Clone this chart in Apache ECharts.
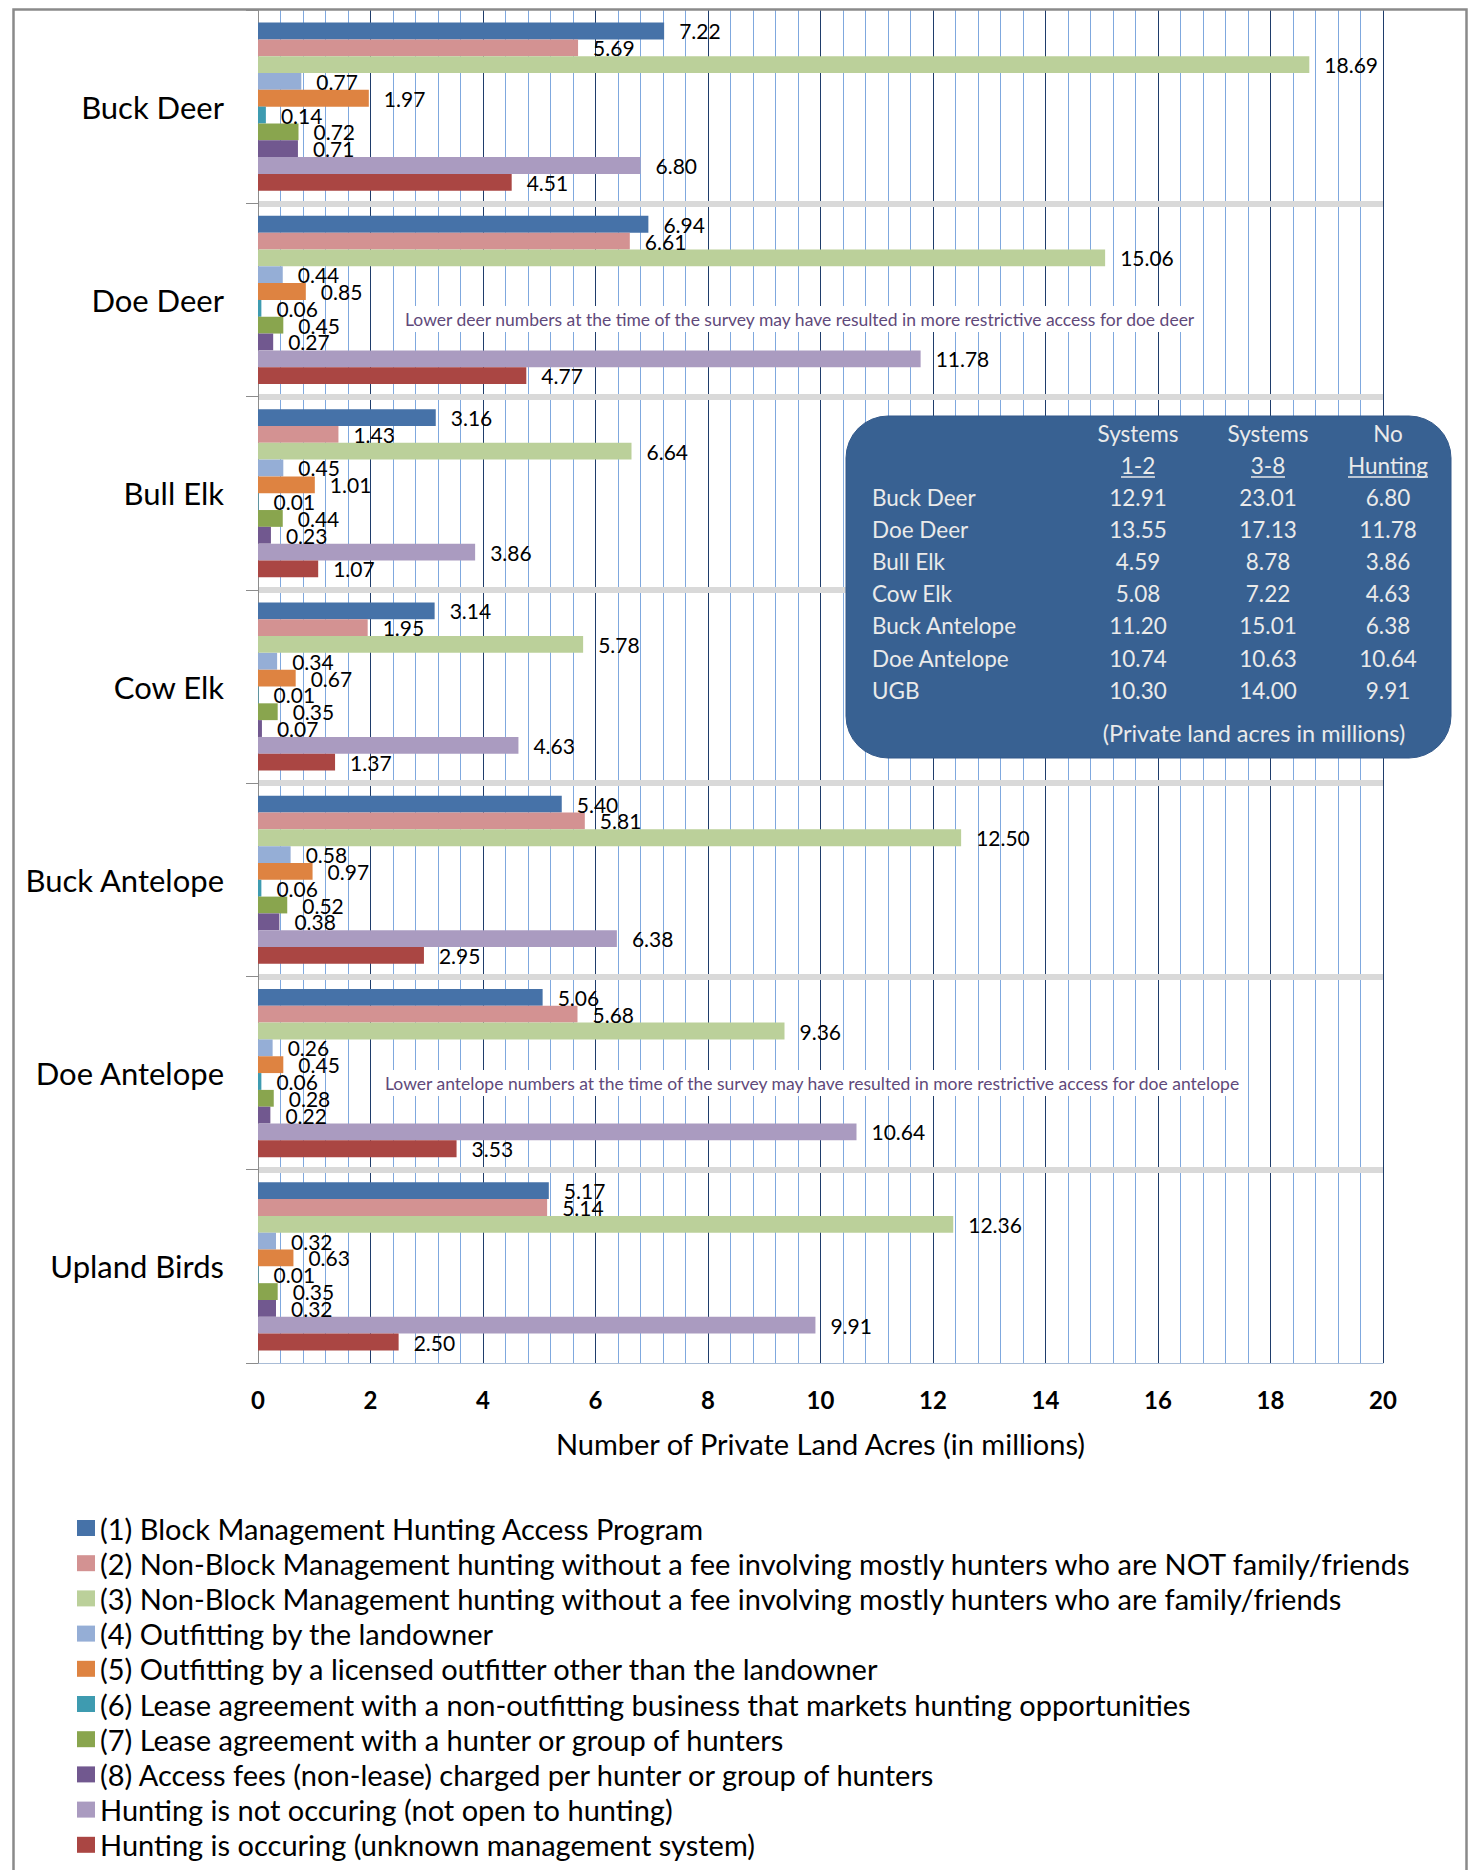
<!DOCTYPE html>
<html>
<head>
<meta charset="utf-8">
<script src="https://cdn.jsdelivr.net/npm/echarts@6/dist/echarts.min.js"></script>
<style>
html,body{margin:0;padding:0;background:#fff;}
#chart{width:1468px;height:1870px;}
</style>
</head>
<body>
<div id="chart"></div>
<script>
const categories = ['Buck Deer','Doe Deer','Bull Elk','Cow Elk','Buck Antelope','Doe Antelope','Upland Birds'];
const seriesNames = [
  '(1) Block Management Hunting Access Program',
  '(2) Non-Block Management hunting without a fee involving mostly hunters who are NOT family/friends',
  '(3) Non-Block Management hunting without a fee involving mostly hunters who are family/friends',
  '(4) Outfitting by the landowner',
  '(5) Outfitting by a licensed outfitter other than the landowner',
  '(6) Lease agreement with a non-outfitting business that markets hunting opportunities',
  '(7) Lease agreement with a hunter or group of hunters',
  '(8) Access fees (non-lease) charged per hunter or group of hunters',
  'Hunting is not occuring (not open to hunting)',
  'Hunting is occuring (unknown management system)'
];
const colors = ['#4672A8','#D39292','#BBD09A','#95AED6','#DE8341','#3E9BB0','#89A54E','#71588F','#AA9BC0','#AA4643'];
// values per series, in category order
const s1 = [7.22, 6.94, 3.16, 3.14, 5.40, 5.06, 5.17];
const s2 = [5.69, 6.61, 1.43, 1.95, 5.81, 5.68, 5.14];
const s3 = [18.69, 15.06, 6.64, 5.78, 12.50, 9.36, 12.36];
const s4 = [0.77, 0.44, 0.45, 0.34, 0.58, 0.26, 0.32];
const s5 = [1.97, 0.85, 1.01, 0.67, 0.97, 0.45, 0.63];
const s6 = [0.14, 0.06, 0.01, 0.01, 0.06, 0.06, 0.01];
const s7 = [0.72, 0.45, 0.44, 0.35, 0.52, 0.28, 0.35];
const s8 = [0.71, 0.27, 0.23, 0.07, 0.38, 0.22, 0.32];
const s9 = [6.80, 11.78, 3.86, 4.63, 6.38, 10.64, 9.91];
const s10 = [4.51, 4.77, 1.07, 1.37, 2.95, 3.53, 2.50];
const allValues = [s1,s2,s3,s4,s5,s6,s7,s8,s9,s10];

// summary table
const tableRows = ['Buck Deer','Doe Deer','Bull Elk','Cow Elk','Buck Antelope','Doe Antelope','UGB'];
const tableSys12 = ['12.91','13.55','4.59','5.08','11.20','10.74','10.30'];
const tableSys38 = ['23.01','17.13','8.78','7.22','15.01','10.63','14.00'];
const tableNoHunt = ['6.80','11.78','3.86','4.63','6.38','10.64','9.91'];
const tableHead1 = ['Systems','Systems','No'];
const tableHead2 = ['1-2','3-8','Hunting'];

const notes = [
  'Lower deer numbers at the time of the survey may have resulted in more restrictive access for doe deer',
  'Lower antelope numbers at the time of the survey may have resulted in more restrictive access for doe antelope'
];

const FONT = 'Lato, "Noto Sans", sans-serif';

const chart = echarts.init(document.getElementById('chart'), null, {renderer:'svg'});

const series = allValues.map((vals, i) => ({
  name: seriesNames[i],
  type: 'bar',
  data: vals,
  barGap: '0%',
  barCategoryGap: '13%',
  z: 2,
  itemStyle: {color: colors[i]},
  label: {
    show: true,
    position: 'right',
    distance: 15,
    color: '#000',
    fontFamily: FONT,
    fontSize: 21,
    formatter: p => p.value.toFixed(2)
  }
}));

// table graphics
const colX = [1138, 1268, 1388];
const rowY0 = 497, rowStep = 32.2;
const tColor = '#EAEAEA';
const tFont = 22.5;
const TZ = 60;
const tableEls = [];
tableEls.push({type:'rect', z:TZ, shape:{x:846, y:416, width:605, height:342, r:42},
  style:{fill:'#386192', stroke:'#33598A', lineWidth:1}});
for (let c=0;c<3;c++){
  tableEls.push({type:'text', z:TZ+1, x:colX[c], y:433, style:{text:tableHead1[c], fill:tColor, font:tFont+'px '+FONT, align:'center', verticalAlign:'middle'}});
  tableEls.push({type:'text', z:TZ+1, x:colX[c], y:465, style:{text:tableHead2[c], fill:tColor, font:tFont+'px '+FONT, align:'center', verticalAlign:'middle'}});
}
const ulines = [[1121,1155],[1251,1285],[1348,1428]];
ulines.forEach(u=>tableEls.push({type:'line', z:TZ+1, shape:{x1:u[0], y1:477, x2:u[1], y2:477}, style:{stroke:tColor, lineWidth:1.5}}));
tableRows.forEach((r,i)=>{
  const y = rowY0 + i*rowStep;
  tableEls.push({type:'text', z:TZ+1, x:872, y:y, style:{text:r, fill:tColor, font:tFont+'px '+FONT, align:'left', verticalAlign:'middle'}});
  [tableSys12[i], tableSys38[i], tableNoHunt[i]].forEach((v,c)=>{
    tableEls.push({type:'text', z:TZ+1, x:colX[c], y:y, style:{text:v, fill:tColor, font:tFont+'px '+FONT, align:'center', verticalAlign:'middle'}});
  });
});
tableEls.push({type:'text', z:TZ+1, x:1254, y:733, style:{text:'(Private land acres in millions)', fill:tColor, font:'23.5px '+FONT, align:'center', verticalAlign:'middle'}});

const option = {
  animation: false,
  backgroundColor: '#fff',
  color: colors,
  textStyle: {fontFamily: FONT},
  grid: {left: 258, right: 85, top: 10, bottom: 507, containLabel: false},
  xAxis: {
    type: 'value', min: 0, max: 20, interval: 2, z: 0,
    name: 'Number of Private Land Acres (in millions)',
    nameLocation: 'middle', nameGap: 66,
    nameTextStyle: {fontFamily: FONT, fontSize: 29, color: '#000'},
    axisLine: {show: true, lineStyle: {color: '#A9BCD6', width: 1}},
    axisTick: {show: false},
    axisLabel: {fontFamily: FONT, fontSize: 24, fontWeight: 'bold', color: '#000', margin: 24},
    splitLine: {show: true, lineStyle: {color: '#1F3D6B', width: 1}},
    minorTick: {show: false, splitNumber: 5},
    minorSplitLine: {show: true, lineStyle: {color: '#7FA8DE', width: 1}}
  },
  yAxis: {
    type: 'category', data: categories, inverse: true, z: 1,
    axisLine: {show: true, lineStyle: {color: '#8C8C8C', width: 1}},
    axisTick: {show: true, length: 12, lineStyle: {color: '#8C8C8C'}},
    axisLabel: {fontFamily: FONT, fontSize: 31, color: '#000', margin: 34},
    splitLine: {show: true, showMinLine: false, showMaxLine: false, lineStyle: {color: '#D9D9D9', width: 6}}
  },
  legend: {
    orient: 'vertical', left: 72, top: 1508,
    itemWidth: 18, itemHeight: 16, itemGap: 5.2,
    icon: 'rect',
    textStyle: {fontFamily: FONT, fontSize: 29, lineHeight: 30, color: '#000'},
    data: seriesNames
  },
  series: series,
  graphic: [
    {type:'rect', left:11, top:7, shape:{width:1453, height:1880}, silent:true, z:100,
     style:{fill:'none', stroke:'#8A8A8A', lineWidth:2.5}},
    {type:'text', x:400, y:319, z:50, style:{text:notes[0], fill:'#5F497A', font:'17.5px '+FONT,
      verticalAlign:'middle', backgroundColor:'#fff', padding:[4,5]}},
    {type:'text', x:380, y:1083, z:50, style:{text:notes[1], fill:'#5F497A', font:'17.5px '+FONT,
      verticalAlign:'middle', backgroundColor:'#fff', padding:[4,5]}},
    {type:'group', z:TZ, children: tableEls}
  ]
};
chart.setOption(option);
</script>
</body>
</html>
